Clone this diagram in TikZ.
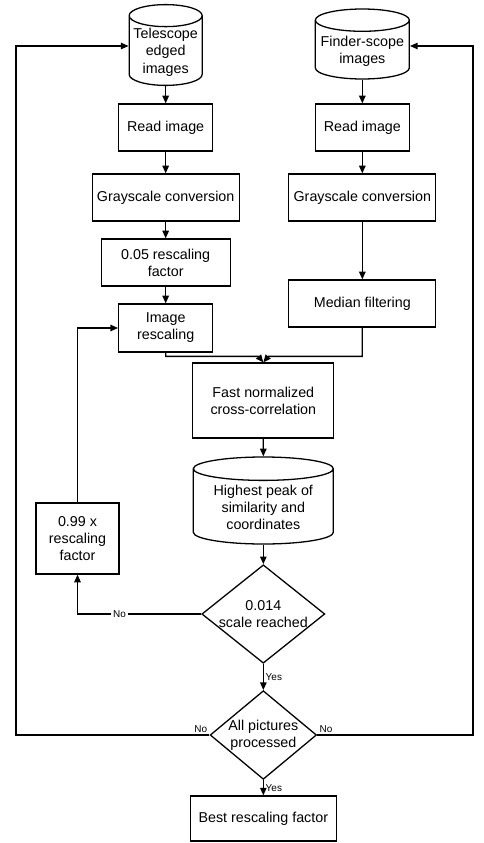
\documentclass[tikz,border=0pt]{standalone}
\usepackage{fontspec}
\setmainfont{Liberation Sans}
\usetikzlibrary{arrows.meta,positioning,calc,shapes.geometric}
\begin{document}
\begin{tikzpicture}[>={Triangle[length=6.5pt,width=5.5pt]},line width=1.1pt,font=\fontsize{12.2}{14.6}\selectfont]
\tikzstyle{b}=[draw,align=center,minimum height=1.41cm,inner sep=2pt]
\tikzstyle{db}=[draw,cylinder,shape border rotate=90,align=center,inner sep=1pt,anchor=shape center]
\tikzstyle{dec}=[draw,diamond,align=center,inner sep=0pt]
\tikzstyle{lbl}=[font=\fontsize{8.5}{10}\selectfont,inner sep=1.5pt]
\useasboundingbox (0,0) rectangle (14.49,-25.29);
% telescope branch
\node[db,aspect=0.33,minimum width=2.19cm,minimum height=2.16cm] (tel) at (4.97,-1.35) {Telescope\\ edged\\ images};
\node[b,minimum width=2.82cm] (read1) at (4.97,-3.825) {Read image};
\node[b,minimum width=4.41cm] (gray1) at (4.97,-5.925) {Grayscale conversion};
\node[b,minimum width=3.87cm] (factor) at (4.97,-7.875) {0.05 rescaling\\ factor};
\node[b,minimum width=2.82cm,minimum height=1.44cm] (rescale) at (4.97,-9.84) {Image\\ rescaling};
% finder-scope branch
\node[db,aspect=0.26,minimum width=2.82cm,minimum height=2.1cm] (fin) at (10.87,-1.32) {Finder-scope\\ images};
\node[b,minimum width=2.82cm] (read2) at (10.87,-3.825) {Read image};
\node[b,minimum width=4.41cm] (gray2) at (10.87,-5.925) {Grayscale conversion};
\node[b,minimum width=4.41cm] (median) at (10.87,-9.105) {Median filtering};
% matching
\node[b,minimum width=4.23cm,minimum height=2.25cm] (fast) at (7.9,-12.015) {Fast normalized\\ cross-correlation};
\node[db,aspect=0.23,minimum width=4.2cm,minimum height=2.61cm] (peak) at (7.9,-15.015) {Highest peak of\\ similarity and\\ coordinates};
\node[dec,aspect=1.25] (scale) at (7.9,-18.42) {0.014\\ scale reached};
\node[b,minimum width=2.49cm,minimum height=2.13cm] (times) at (2.325,-16.155) {0.99 x\\ rescaling\\ factor};
\node[dec,aspect=1.2] (allpic) at (7.9,-22.05) {All pictures\\ processed};
\node[b,minimum width=4.38cm,minimum height=1.35cm] (best) at (7.9,-24.555) {Best rescaling factor};
\coordinate (lx) at (0.48,-1.38);
\coordinate (rx) at (14.19,-1.38);
\draw[->] (tel.south) -- (read1.north);
\draw[->] (read1) -- (gray1);
\draw[->] (gray1) -- (factor);
\draw[->] (factor) -- (rescale);
\draw[->] (fin.south) -- (read2.north);
\draw[->] (read2) -- (gray2);
\draw[->] (gray2) -- (median);
\draw[->] (rescale.south) |- ([xshift=-0.15cm,yshift=0.18cm]fast.north) -- (fast.north);
\draw[->] (median.south) |- ([xshift=0.15cm,yshift=0.18cm]fast.north) -- (fast.north);
\draw[->] (fast) -- (peak);
\draw[->] (peak.south) -- (scale.north);
\draw[->] (scale.south) -- node[lbl,right]{Yes} (allpic.north);
\draw[->] (allpic.south) -- node[lbl,right]{Yes} (best.north);
\draw[->] (scale.west) -| node[lbl,pos=0.33,fill=white]{No} (times.south);
\draw[->] (times.north) |- (rescale.west);
\draw[->] (allpic.west) node[lbl,above left]{No} -| (lx) -- (lx -| tel.west);
\draw[->] (allpic.east) node[lbl,above right]{No} -| (rx) -- (rx -| fin.east);
\end{tikzpicture}
\end{document}
